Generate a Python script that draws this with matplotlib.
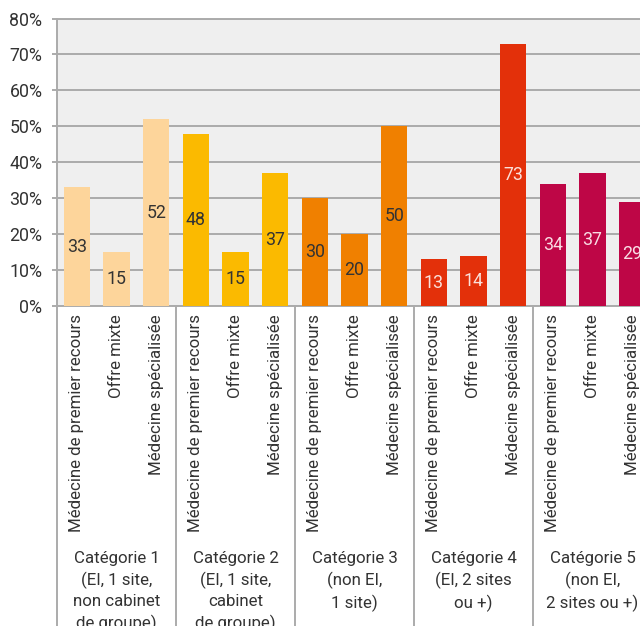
import matplotlib
matplotlib.use("Agg")
import matplotlib.pyplot as plt
import matplotlib.transforms as mtransforms
import numpy as np

plt.rcParams['font.family'] = ['Roboto', 'DejaVu Sans']
plt.rcParams['font.weight'] = 'normal'

categories = [
    "Catégorie 1\n(EI, 1 site,\nnon cabinet\nde groupe)",
    "Catégorie 2\n(EI, 1 site,\ncabinet\nde groupe)",
    "Catégorie 3\n(non EI,\n1 site)",
    "Catégorie 4\n(EI, 2 sites\nou +)",
    "Catégorie 5\n(non EI,\n2 sites ou +)",
]
offres = ["Médecine de premier recours", "Offre mixte", "Médecine spécialisée"]
values = [
    [33, 15, 52],
    [48, 15, 37],
    [30, 20, 50],
    [13, 14, 73],
    [34, 37, 29],
]
colors = ["#FDD59B", "#FBBA00", "#F08000", "#E3300A", "#BE0646"]
label_colors = ["#333333", "#333333", "#333333", "#FBE0DA", "#F9DCE4"]
yticks = [0, 10, 20, 30, 40, 50, 60, 70, 80]
FS = 12.2

fig = plt.figure(figsize=(6.4, 6.26), dpi=100)
ax = fig.add_axes([57 / 640, 1 - 306 / 626, 595 / 640, 287.5 / 626])
ax.set_facecolor("#EFEFEF")

n_sub = len(offres)
xpos, xlabels = [], []
for g, (vals, col, lcol) in enumerate(zip(values, colors, label_colors)):
    xs = g * n_sub + np.arange(n_sub) + 0.5
    ax.bar(xs, vals, width=0.66, color=col, zorder=3)
    for x, v in zip(xs, vals):
        ax.text(x, v / 2, f"{v}", ha="center", va="center", fontsize=FS + 0.6,
                color=lcol, zorder=4)
    xpos.extend(xs)
    xlabels.extend(offres)

n_total = len(values) * n_sub
ax.set_xlim(0, n_total)
ax.set_ylim(0, 80)
ax.set_yticks(yticks)
ax.set_yticklabels([f"{t}%" for t in yticks])
ax.yaxis.grid(True, color="#ABABAB", linewidth=1.4, zorder=1)
ax.set_axisbelow(True)

ax.set_xticks(xpos)
ax.set_xticklabels(xlabels, rotation=90, fontsize=FS, color="#333333")
ax.tick_params(axis="x", length=0, pad=6)
ax.tick_params(axis="y", length=3.5, width=1.4, color="#ABABAB",
               labelsize=FS + 0.6, labelcolor="#333333", pad=7)

for side in ["left", "top", "bottom"]:
    ax.spines[side].set_color("#ABABAB")
    ax.spines[side].set_linewidth(1.4)
ax.spines["right"].set_visible(False)

# group separators extending below the axis
for g in range(len(values) + 1):
    ax.axvline(g * n_sub, ymin=-2.0, ymax=0, color="#ABABAB", linewidth=1.4,
               clip_on=False)

trans = mtransforms.blended_transform_factory(ax.transData, ax.transAxes)
for g, cat in enumerate(categories):
    ax.text(g * n_sub + n_sub / 2, -0.853, cat, transform=trans, ha="center",
            va="top", fontsize=FS, color="#333333", linespacing=1.43)

fig.savefig("out.png", dpi=100)
